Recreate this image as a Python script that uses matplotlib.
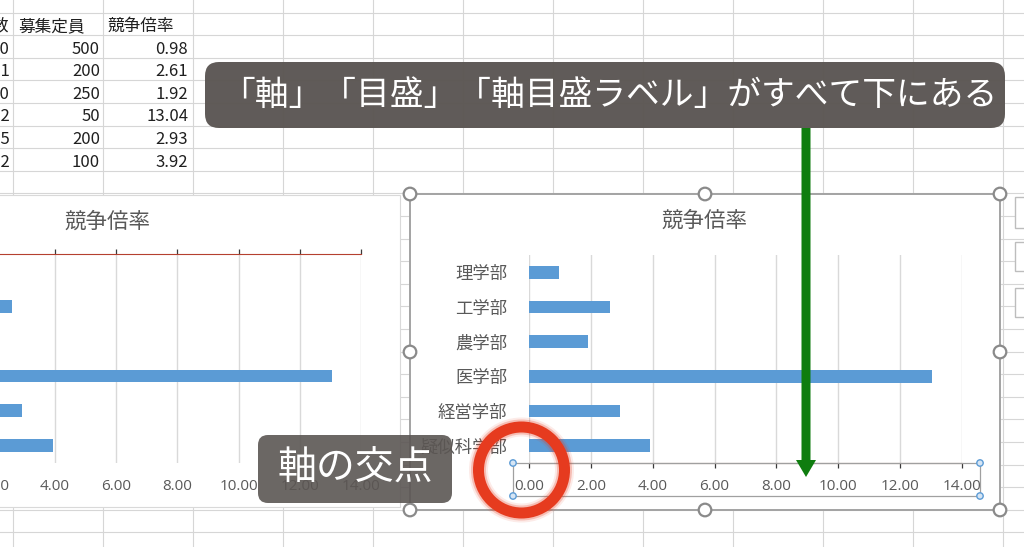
"""Excel screenshot: two 競争倍率 bar charts, axis moved to bottom, with callouts."""

import matplotlib.pyplot as plt
import numpy as np
from matplotlib.patches import Circle, FancyBboxPatch, Polygon, Rectangle

plt.rcParams["font.family"] = ["Noto Sans CJK JP", "DejaVu Sans"]

W, H = 1024, 547

# table / chart data
DEPTS = ["理学部", "工学部", "農学部", "医学部", "経営学部", "疑似科学部"]
APPLICANTS = [490, 521, 480, 652, 585, 392]
CAPACITY = [500, 200, 250, 50, 200, 100]
RATIO = [0.98, 2.61, 1.92, 13.04, 2.93, 3.92]
XTICKS = [0, 2, 4, 6, 8, 10, 12, 14]

BAR = "#5b9bd5"
LABEL = "#595959"
GRID = "#d9d9d9"
SHEET = "#d6d6d6"
BOX = "#5b5653"
GREEN = "#0f7d0f"
RED = "#e63b1f"

fig = plt.figure(figsize=(W / 100, H / 100), dpi=100)


def px_axes(x0, y0, x1, y1):
    """Axes placed by pixel box (y measured from top)."""
    return fig.add_axes([x0 / W, 1 - y1 / H, (x1 - x0) / W, (y1 - y0) / H])


def pixel_canvas():
    ax = px_axes(0, 0, W, H)
    ax.set_xlim(0, W)
    ax.set_ylim(H, 0)
    ax.axis("off")
    ax.patch.set_alpha(0)
    return ax


# ---- spreadsheet background
bg = pixel_canvas()
for x in range(13, W, 90):
    bg.axvline(x, color=SHEET, lw=0.8, zorder=0)
for y in np.arange(12.5, H, 22.6):
    bg.axhline(y, color=SHEET, lw=0.8, zorder=0)

tfont = dict(fontsize=12, color="#1f1f1f", va="center")
bg.text(9, 26.5, "志願者数", ha="right", **tfont)
bg.text(18, 26.5, "募集定員", ha="left", **tfont)
bg.text(108, 26.5, "競争倍率", ha="left", **tfont)
for i in range(len(DEPTS)):
    y = 49.1 + 22.6 * i
    bg.text(10, y, f"{APPLICANTS[i]}", ha="right", **tfont)
    bg.text(100, y, f"{CAPACITY[i]}", ha="right", **tfont)
    bg.text(188, y, f"{RATIO[i]:.2f}", ha="right", **tfont)

# chart areas
bg.add_patch(Rectangle((-5, 195), 405, 312, fc="white", ec="#d9d9d9", lw=0.8, zorder=1))
bg.add_patch(Rectangle((410, 194), 590, 316, fc="white", ec="#a3a3a3", lw=1.4, zorder=1))
bg.text(107, 222, "競争倍率", ha="center", va="center", fontsize=15.5, color=LABEL, zorder=2)
bg.text(704, 221, "競争倍率", ha="center", va="center", fontsize=15.5, color=LABEL, zorder=2)


def bar_chart(ax):
    ypos = np.arange(len(DEPTS))
    ax.barh(ypos, RATIO, height=0.36, color=BAR, zorder=2)
    ax.set_xlim(0, 14)
    ax.set_ylim(len(DEPTS) - 0.5, -0.5)
    ax.set_xticks(XTICKS, [f"{v:.2f}" for v in XTICKS])
    ax.set_yticks(ypos, DEPTS)
    ax.grid(axis="x", color=GRID, lw=1.0)
    ax.set_axisbelow(True)
    ax.patch.set_alpha(0)
    for s in ax.spines.values():
        s.set_visible(False)
    plt.setp(ax.get_xticklabels(), family="Open Sans")


# ---- left chart (axis at top, labels still at bottom), cut by the screen edge
axL = px_axes(-67.4, 254, 361, 463)
bar_chart(axL)
axL.spines["top"].set_visible(True)
axL.spines["top"].set_color("#b5402f")
axL.tick_params(axis="x", top=True, bottom=False, labeltop=False, labelbottom=True,
                direction="out", length=3.6, width=0.9, color="#3a3a3a",
                labelsize=11, labelcolor=LABEL, pad=8)
axL.tick_params(axis="y", left=False, labelleft=False)

# ---- right chart (everything at the bottom)
axR = px_axes(529, 255, 962, 463)
bar_chart(axR)
axR.spines["bottom"].set_visible(True)
axR.spines["bottom"].set_color("#a04a3c")
axR.tick_params(axis="x", bottom=True, direction="out", length=3.6, width=0.9,
                color="#3a3a3a", labelsize=11, labelcolor=LABEL, pad=8)
axR.tick_params(axis="y", left=False, labelsize=12.5, labelcolor=LABEL, pad=12)

# ---- overlay: selection marks and callouts
ov = pixel_canvas()
ov.add_patch(Rectangle((513, 463), 467, 33, fill=False, ec="#a0a0a0", lw=0.9))
for x, y in [(513, 463), (980, 463), (513, 496), (980, 496)]:
    ov.add_patch(Circle((x, y), 3.2, fc="#d6e5f4", ec=BAR, lw=1.0))
for x, y in [(410, 194), (705, 194), (1000, 194), (410, 352), (1000, 352),
             (410, 510), (705, 510), (1000, 510)]:
    ov.add_patch(Circle((x, y), 6.3, fc="white", ec="#8a8a8a", lw=1.6))
for y0, y1 in [(197, 228), (242, 271), (288, 317)]:
    ov.add_patch(Rectangle((1015, y0), 20, y1 - y0, fc="white", ec="#bdbdbd", lw=1.0))

ov.add_patch(FancyBboxPatch((205, 62), 800, 66, boxstyle="round,pad=0,rounding_size=14",
                            fc=BOX, ec="none", alpha=0.97))
ov.text(609, 95, "「軸」「目盛」「軸目盛ラベル」がすべて下にある", ha="center", va="center",
        fontsize=24.3, color="white")

ov.add_patch(Polygon([(801.5, 128), (810.5, 128), (810.5, 460), (816, 460), (806, 477),
                      (796, 460), (801.5, 460)], closed=True, fc=GREEN, ec="none"))

ov.add_patch(FancyBboxPatch((258, 435), 194, 68, boxstyle="round,pad=0,rounding_size=10",
                            fc=BOX, ec="none", alpha=0.9))
ov.text(355, 469, "軸の交点", ha="center", va="center", fontsize=28, color="white")

for lw, a in [(19, 0.10), (15, 0.25), (11, 1.0)]:
    ov.add_patch(Circle((521.5, 470), 43, fill=False, ec=RED, lw=lw * 0.72, alpha=a))

fig.savefig("out.png", dpi=100)
